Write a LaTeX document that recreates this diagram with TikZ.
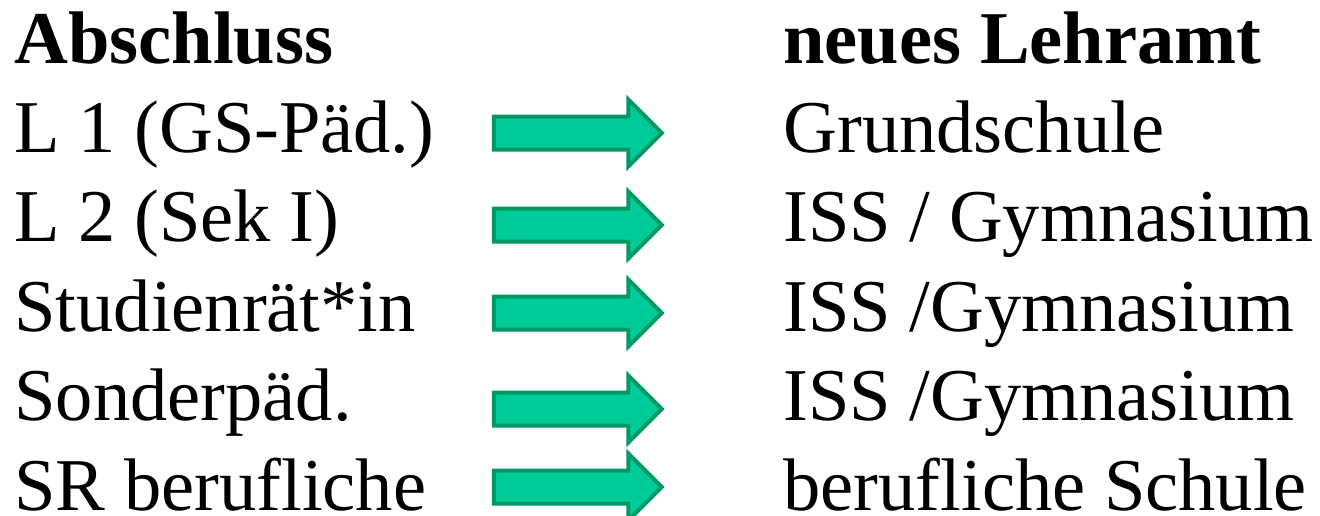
\documentclass[tikz,border=0pt]{standalone}
\usepackage{fontspec}
\setmainfont{Liberation Serif}
\usetikzlibrary{shapes.arrows}
\definecolor{pfeilgruen}{RGB}{0,204,153}
\definecolor{pfeilrand}{RGB}{0,153,102}
\tikzset{
  zeile/.style={anchor=base west,inner sep=0pt,font=\fontsize{37.25pt}{44.7pt}\selectfont},
  kopf/.style={zeile,font=\fontsize{37.25pt}{44.7pt}\selectfont\bfseries},
  pfeil/.style={single arrow,draw=pfeilrand,fill=pfeilgruen,line width=2pt,
    inner sep=0pt,text height=14.5pt,text depth=0pt,text width=0pt,
    single arrow head extend=8.5pt,minimum height=84pt}
}
\begin{document}
\begin{tikzpicture}[x=0.5pt,y=-0.5pt]
      \useasboundingbox (0,0) rectangle (1320,515);
      \begin{scope}
        \node[kopf] (abschluss) at (14,63) {Abschluss};
        \node[zeile] (l1) at (14,152.4) {L 1 (GS-Päd.)};
        \node[zeile] (l2) at (14,241.8) {L 2 (Sek I)};
        \node[zeile] (sr) at (14,331.2) {Studienrät*in};
        \node[zeile] (sonder) at (14,420.6) {Sonderpäd.};
        \node[zeile] (beruf) at (14,510) {SR berufliche};
      \end{scope}
      \begin{scope}
        \node[kopf] (lehramt) at (783,63) {neues Lehramt};
        \node[zeile] (gs) at (783,152.4) {Grundschule};
        \node[zeile] (iss1) at (783,241.8) {ISS / Gymnasium};
        \node[zeile] (iss2) at (783,331.2) {ISS /Gymnasium};
        \node[zeile] (iss3) at (783,420.6) {ISS /Gymnasium};
        \node[zeile] (bs) at (783,510) {berufliche Schule};
      \end{scope}
      \begin{scope}
        \node[pfeil] (p1) at (569.5,133) {};
        \node[pfeil] (p2) at (569.5,225) {};
        \node[pfeil] (p3) at (569.5,313) {};
        \node[pfeil] (p4) at (569.5,409) {};
        \node[pfeil] (p5) at (569.5,487) {};
      \end{scope}
    \end{tikzpicture}
\end{document}
